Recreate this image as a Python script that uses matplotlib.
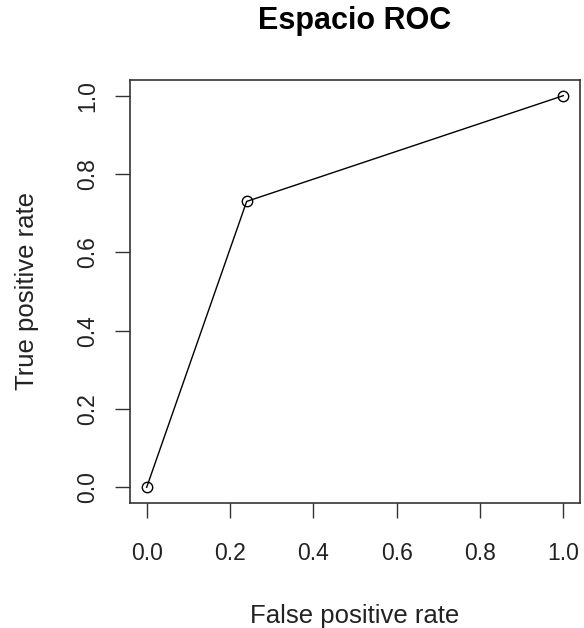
import matplotlib
matplotlib.use("Agg")
import matplotlib.pyplot as plt

fpr = [0.0, 0.24, 1.0]
tpr = [0.0, 0.73, 1.0]
xticks = [0.0, 0.2, 0.4, 0.6, 0.8, 1.0]
yticks = [0.0, 0.2, 0.4, 0.6, 0.8, 1.0]

plt.rcParams['font.family'] = ['Liberation Sans', 'DejaVu Sans']
fig = plt.figure(figsize=(5.84, 6.28), dpi=100)
ax = fig.add_axes([130/584, 1 - 503/628, 450/584, 423/628])
ax.plot(fpr, tpr, color='black', lw=1.0, marker='o', mfc='none', mec='black', ms=7.5, mew=1.0)
ax.set_xlim(-0.04, 1.04)
ax.set_ylim(-0.04, 1.04)
ax.set_xticks(xticks)
ax.set_xticklabels([f"{v:.1f}" for v in xticks])
ax.set_yticks(yticks)
ax.set_yticklabels([f"{v:.1f}" for v in yticks], rotation=90, va='center')
ax.tick_params(direction='out', length=11, width=1.0, labelsize=16.5, color='#333333', labelcolor='#222222')
ax.tick_params(axis='x', pad=17)
ax.tick_params(axis='y', pad=11)
for s in ax.spines.values():
    s.set_linewidth(1.2)
    s.set_color('#333333')
ax.set_xlabel('False positive rate', fontsize=18.5, labelpad=28, color='#222222')
ax.set_ylabel('True positive rate', fontsize=18.5, labelpad=27, color='#222222')
fig.text(355/584, 1 - 21/628, 'Espacio ROC', ha='center', va='center', fontsize=22, fontweight='bold')
fig.savefig('out.png', dpi=100)
